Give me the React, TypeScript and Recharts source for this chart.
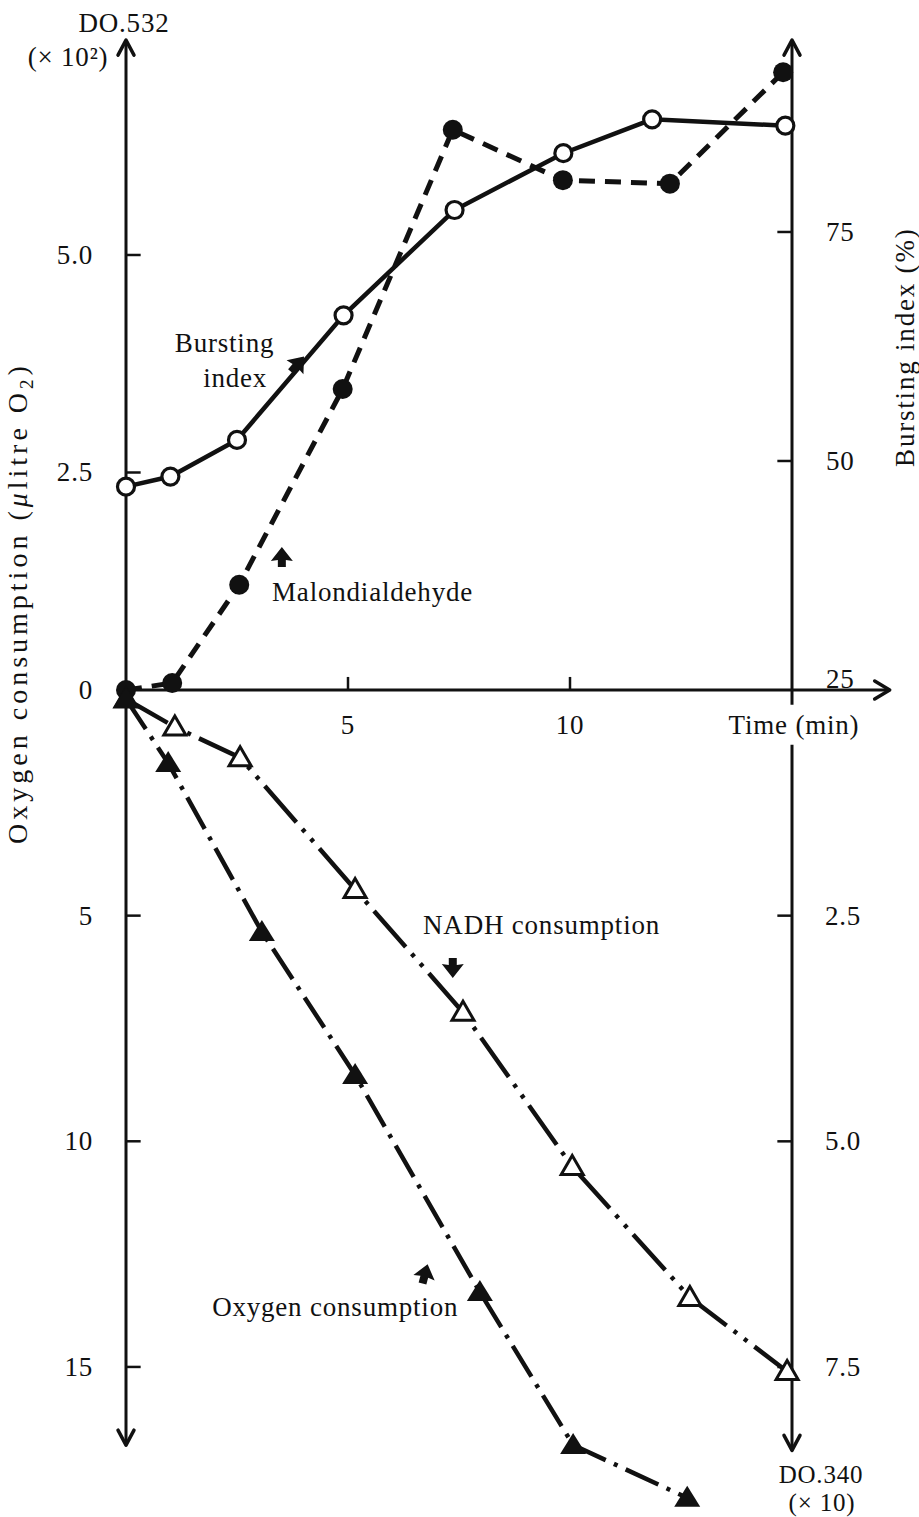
import React from 'react';
import { ComposedChart, Line, XAxis, YAxis, ReferenceLine, ReferenceDot } from 'recharts';

// ---- data ----
const burstTime = [0, 1, 2.5, 4.9, 7.4, 9.85, 11.85, 14.85];
const burstPct = [47.2, 48.3, 52.3, 65.9, 77.4, 83.6, 87.3, 86.6];

const mdaTime = [0, 1.04, 2.55, 4.88, 7.36, 9.84, 12.25, 14.8];
const mdaDO532 = [0, 0.08, 1.21, 3.46, 6.44, 5.86, 5.82, 7.1];

const nadhTime = [0, 1.1, 2.57, 5.16, 7.59, 10.05, 12.7, 14.89];
const nadhDO340 = [0.1, 0.41, 0.75, 2.21, 3.57, 5.28, 6.73, 7.55];

const oxyTime = [0, 0.95, 3.06, 5.16, 7.97, 10.07, 12.64];
const oxyUl = [0.2, 1.62, 5.36, 8.53, 13.34, 16.73, 17.9];

const timeTicks = [5, 10];
const do532Ticks = [0, 2.5, 5];
const burstTicks = [25, 50, 75];
const oxyTicks = [5, 10, 15];
const do340Ticks = [2.5, 5, 7.5];

const zip = (xs: number[], ys: number[]) => xs.map((t, i) => ({ t, v: ys[i] }));
const burstData = zip(burstTime, burstPct);
const mdaData = zip(mdaTime, mdaDO532);
const nadhData = zip(nadhTime, nadhDO340);
const oxyData = zip(oxyTime, oxyUl);

const FONT = "'Liberation Serif', 'Times New Roman', serif";
const INK = '#111';
const FS = 27;
const LS = 0.8;

const openCircle = (p: any) => (
  <circle key={`oc${p.index}`} cx={p.cx} cy={p.cy} r={8.5} fill="#fff" stroke={INK} strokeWidth={3.2} />
);
const filledCircle = (p: any) => (
  <circle key={`fc${p.index}`} cx={p.cx} cy={p.cy} r={10} fill={INK} stroke="none" />
);
const filledTri = (p: any) => (
  <path
    key={`ft${p.index}`}
    d={`M${p.cx},${p.cy - 12} L${p.cx + 13},${p.cy + 9} L${p.cx - 13},${p.cy + 9} Z`}
    fill={INK}
  />
);
const openTri = (p: any) => (
  <path
    key={`ot${p.index}`}
    d={`M${p.cx},${p.cy - 11} L${p.cx + 11},${p.cy + 8} L${p.cx - 11},${p.cy + 8} Z`}
    fill="#fff"
    stroke={INK}
    strokeWidth={3}
    strokeLinejoin="miter"
  />
);

const arrowHead = (dir: 'up' | 'down' | 'right') => (p: any) => {
  const { cx, cy } = p;
  let d = '';
  if (dir === 'up') d = `M${cx - 8},${cy + 15} L${cx},${cy} L${cx + 8},${cy + 15}`;
  if (dir === 'down') d = `M${cx - 8},${cy - 15} L${cx},${cy} L${cx + 8},${cy - 15}`;
  if (dir === 'right') d = `M${cx - 15},${cy - 9} L${cx},${cy} L${cx - 15},${cy + 9}`;
  return <path d={d} fill="none" stroke={INK} strokeWidth={3.5} strokeLinecap="round" strokeLinejoin="round" />;
};

const smallArrow = (angle: number) => (p: any) => {
  const { cx, cy } = p;
  const pts = [
    [0, -11], [11, 3], [4, 2], [4, 9], [-4, 9], [-4, 2], [-11, 3],
  ].map(([a, b]) => `${cx + a},${cy + b}`).join(' ');
  return <polygon points={pts} fill={INK} transform={`rotate(${angle} ${cx} ${cy})`} />;
};

const textShape = (
  content: React.ReactNode,
  opts: {
    dx?: number;
    dy?: number;
    anchor?: 'start' | 'middle' | 'end';
    rotate?: number;
    size?: number;
    spacing?: number;
  } = {}
) => (p: any) => {
  const x = p.cx + (opts.dx || 0);
  const y = p.cy + (opts.dy || 0);
  return (
    <text
      x={x}
      y={y}
      textAnchor={opts.anchor || 'start'}
      fontFamily={FONT}
      fontSize={opts.size || FS}
      letterSpacing={opts.spacing ?? LS}
      fill={INK}
      transform={opts.rotate ? `rotate(${opts.rotate} ${x} ${y})` : undefined}
    >
      {content}
    </text>
  );
};

const dot = (key: string, axis: string, x: number, y: number, shape: any) => (
  <ReferenceDot key={key} yAxisId={axis} x={x} y={y} r={1} ifOverflow="visible" shape={shape} />
);

const seg = (key: string, axis: string, x1: number, y1: number, x2: number, y2: number, w = 3) => (
  <ReferenceLine
    key={key}
    yAxisId={axis}
    segment={[{ x: x1, y: y1 }, { x: x2, y: y2 }]}
    stroke={INK}
    strokeWidth={w}
    ifOverflow="visible"
  />
);

const fmt1 = (v: number) => (v === 0 ? '0' : v.toFixed(1));

export default function App() {
  return (
    <div style={{ position: 'absolute', left: 0, top: 0, width: 919, height: 1517, background: '#fff' }}>
      <ComposedChart width={919} height={1517} margin={{ top: 30, right: 127, bottom: 7, left: 126 }}>
        <XAxis dataKey="t" type="number" domain={[0, 15]} hide />
        <YAxis yAxisId="do532" orientation="left" type="number" domain={[-9.425, 7.586]} hide />
        <YAxis yAxisId="oxy" orientation="left" type="number" reversed domain={[-14.624, 18.17]} hide />
        <YAxis yAxisId="burst" orientation="right" type="number" domain={[-64.52, 97.05]} hide />
        <YAxis yAxisId="do340" orientation="right" type="number" reversed domain={[-7.311, 9.084]} hide />

        {/* axis lines */}
        {seg('axL', 'do532', 0, 7.47, 0, -8.68)}
        {seg('axR1', 'do532', 15, 7.47, 15, -0.17)}
        {seg('axR2', 'do532', 15, -0.63, 15, -8.74)}
        {seg('axX', 'do532', 0, 0, 17.2, 0)}
        {dot('arL1', 'do532', 0, 7.47, arrowHead('up'))}
        {dot('arL2', 'do532', 0, -8.68, arrowHead('down'))}
        {dot('arR1', 'do532', 15, 7.47, arrowHead('up'))}
        {dot('arR2', 'do532', 15, -8.74, arrowHead('down'))}
        {dot('arX', 'do532', 17.2, 0, arrowHead('right'))}

        {/* tick marks */}
        {do532Ticks.filter((v) => v > 0).map((v) => seg(`tl${v}`, 'do532', 0, v, 0.33, v, 2.5))}
        {oxyTicks.map((v) => seg(`to${v}`, 'oxy', 0, v, 0.33, v, 2.5))}
        {burstTicks.filter((v) => v > 25).map((v) => seg(`tb${v}`, 'burst', 14.67, v, 15, v, 2.5))}
        {do340Ticks.map((v) => seg(`td${v}`, 'do340', 14.67, v, 15, v, 2.5))}
        {timeTicks.map((t) => seg(`tx${t}`, 'do532', t, 0, t, 0.15, 2.5))}

        {/* tick labels */}
        {do532Ticks.map((v) => dot(`ll${v}`, 'do532', 0, v, textShape(fmt1(v), { anchor: 'end', dx: -33, dy: 9 })))}
        {oxyTicks.map((v) => dot(`lo${v}`, 'oxy', 0, v, textShape(String(v), { anchor: 'end', dx: -33, dy: 9 })))}
        {burstTicks.map((v) =>
          dot(`lb${v}`, 'burst', 15, v, textShape(String(v), { dx: 34, dy: v === 25 ? -2 : 9 }))
        )}
        {do340Ticks.map((v) => dot(`ld${v}`, 'do340', 15, v, textShape(v.toFixed(1), { dx: 33, dy: 9 })))}
        {timeTicks.map((t) => dot(`xl${t}`, 'do532', t, 0, textShape(String(t), { anchor: 'middle', dy: 44 })))}
        {dot('xlT', 'do532', 15, 0, textShape('Time (min)', { anchor: 'middle', dx: 2, dy: 44 }))}

        {/* axis titles */}
        {dot('tTop1', 'do532', 0, 7.47, textShape('DO.532', { anchor: 'middle', dx: -2, dy: -8 }))}
        {dot('tTop2', 'do532', 0, 7.47, textShape('(× 10²)', { anchor: 'middle', dx: -58, dy: 26 }))}
        {dot('tBot1', 'do532', 15, -8.74, textShape('DO.340', { anchor: 'middle', dx: 29, dy: 33, size: 25 }))}
        {dot('tBot2', 'do532', 15, -8.74, textShape('(× 10)', { anchor: 'middle', dx: 30, dy: 61, size: 25 }))}
        {dot(
          'tRight',
          'do532',
          15,
          3.94,
          textShape('Bursting index (%)', { anchor: 'middle', dx: 122, rotate: -90, spacing: 1.8 })
        )}
        {dot(
          'tLeft',
          'do532',
          0,
          1.0,
          textShape(
            <>
              {'Oxygen consumption ('}
              <tspan fontStyle="italic">μ</tspan>
              {'litre O'}
              <tspan dy={6} fontSize={19}>2</tspan>
              <tspan dy={-6}>)</tspan>
            </>,
            { anchor: 'middle', dx: -99, rotate: -90, size: 28, spacing: 4 }
          )
        )}

        {/* series */}
        <Line
          yAxisId="burst"
          data={burstData}
          dataKey="v"
          type="linear"
          stroke={INK}
          strokeWidth={4.5}
          dot={openCircle}
          activeDot={false}
          isAnimationActive={false}
        />
        <Line
          yAxisId="do532"
          data={mdaData}
          dataKey="v"
          type="linear"
          stroke={INK}
          strokeWidth={5}
          strokeDasharray="16 10"
          dot={filledCircle}
          activeDot={false}
          isAnimationActive={false}
        />
        <Line
          yAxisId="do340"
          data={nadhData}
          dataKey="v"
          type="linear"
          stroke={INK}
          strokeWidth={4.5}
          strokeDasharray="48 9 4 9 4 9"
          dot={openTri}
          activeDot={false}
          isAnimationActive={false}
        />
        <Line
          yAxisId="oxy"
          data={oxyData}
          dataKey="v"
          type="linear"
          stroke={INK}
          strokeWidth={4.5}
          strokeDasharray="36 9 4 9"
          dot={filledTri}
          activeDot={false}
          isAnimationActive={false}
        />

        {/* annotations */}
        {dot('aB1', 'do532', 1.1, 3.885, textShape('Bursting'))}
        {dot('aB2', 'do532', 3.18, 3.483, textShape('index', { anchor: 'end' }))}
        {dot('aBa', 'do532', 3.85, 3.736, smallArrow(40))}
        {dot('aM', 'do532', 3.29, 1.023, textShape('Malondialdehyde'))}
        {dot('aMa', 'do532', 3.51, 1.517, smallArrow(0))}
        {dot('aN', 'oxy', 6.69, 5.41, textShape('NADH consumption'))}
        {dot('aNa', 'oxy', 7.36, 6.14, smallArrow(180))}
        {dot('aO', 'oxy', 1.94, 13.87, textShape('Oxygen consumption'))}
        {dot('aOa', 'oxy', 6.73, 12.96, smallArrow(15))}
      </ComposedChart>
    </div>
  );
}
